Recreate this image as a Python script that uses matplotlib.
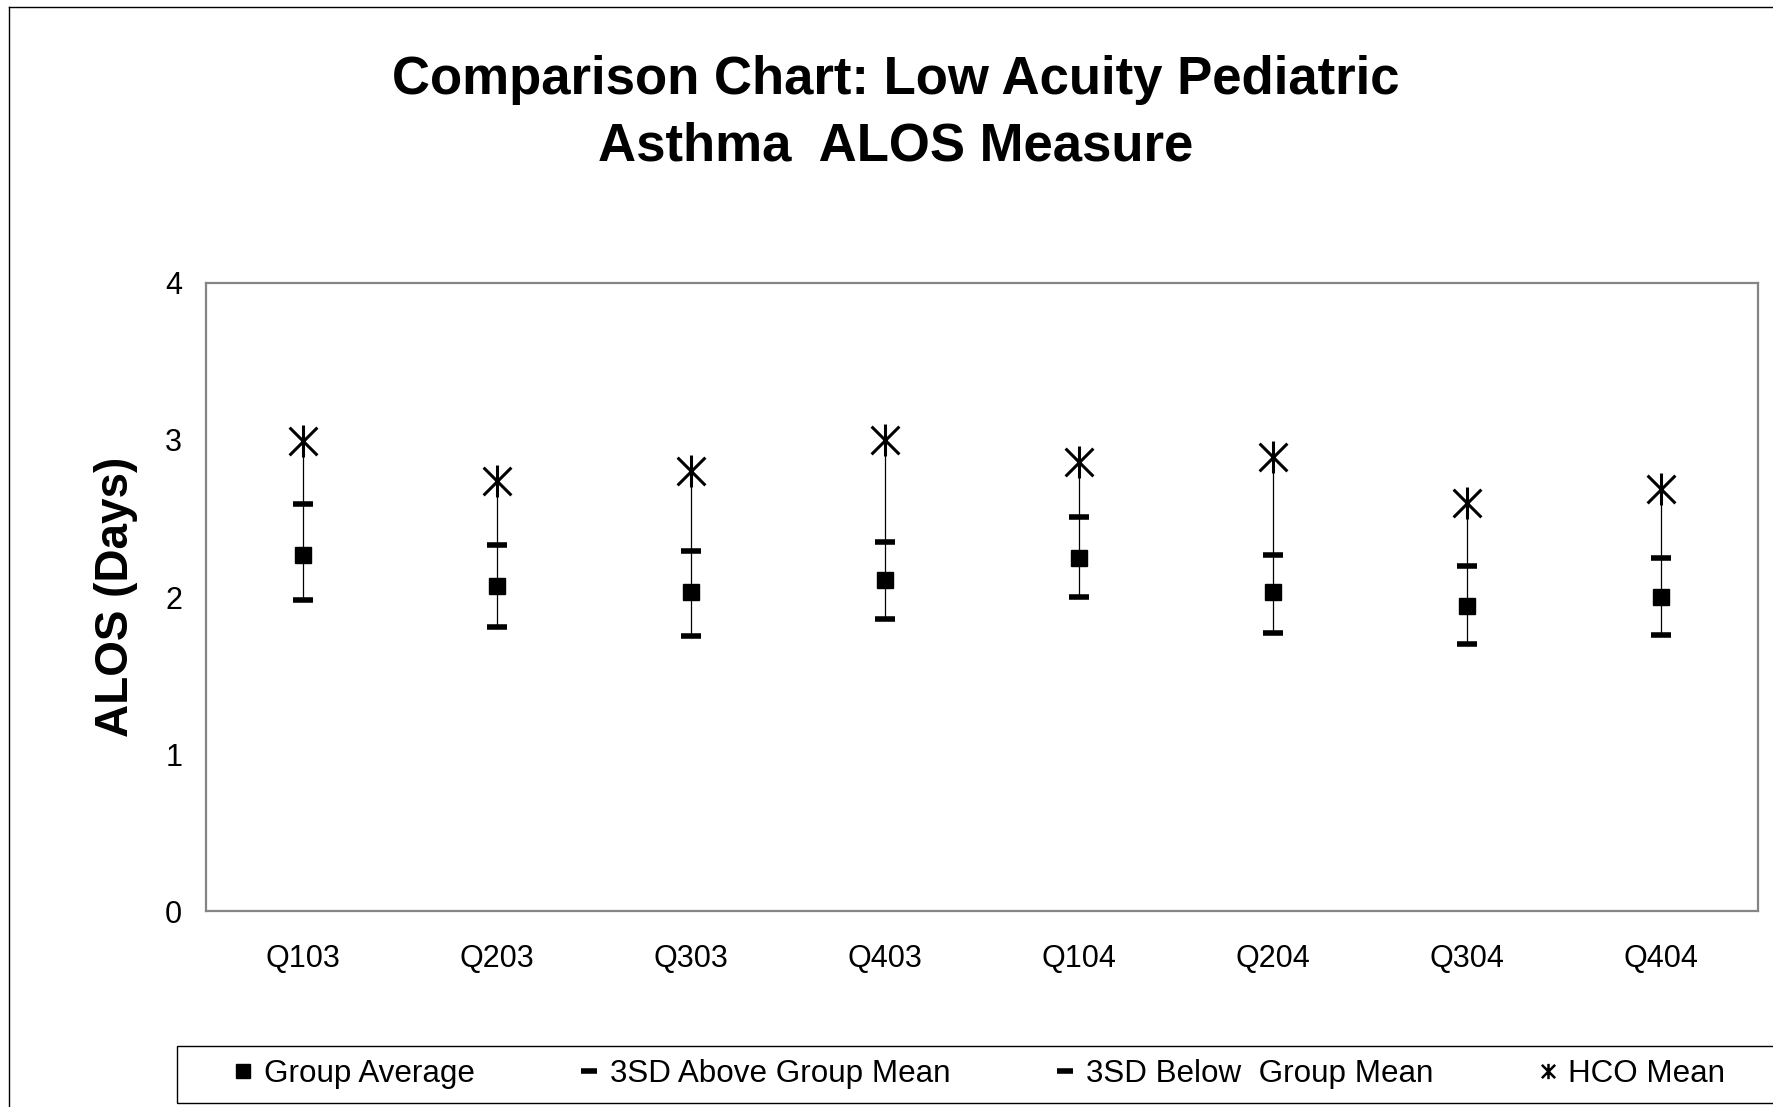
import matplotlib
matplotlib.use("Agg")
import matplotlib.pyplot as plt
from matplotlib.lines import Line2D
from matplotlib.patches import Rectangle
from matplotlib.path import Path

plt.rcParams['font.family'] = ['Liberation Sans', 'DejaVu Sans']

# values
quarters = ['Q103', 'Q203', 'Q303', 'Q403', 'Q104', 'Q204', 'Q304', 'Q404']
group_avg = [2.27, 2.07, 2.03, 2.11, 2.25, 2.03, 1.94, 2.00]
sd3_above = [2.59, 2.33, 2.29, 2.35, 2.51, 2.27, 2.20, 2.25]
sd3_below = [1.98, 1.81, 1.75, 1.86, 2.00, 1.77, 1.70, 1.76]
hco_mean = [2.99, 2.74, 2.80, 3.00, 2.86, 2.89, 2.60, 2.69]
yticks = [0, 1, 2, 3, 4]

# excel style "star" marker: an x with a vertical bar through it
star = Path([(-1, -1), (1, 1), (-1, 1), (1, -1), (0, -1.15), (0, 1.15)],
            [Path.MOVETO, Path.LINETO, Path.MOVETO, Path.LINETO, Path.MOVETO, Path.LINETO])

fig = plt.figure(figsize=(17.73, 11.07), dpi=100)
ax = fig.add_axes([0.1161, 0.1767, 0.8756, 0.5679])

x = list(range(len(quarters)))
lows = [min(a, b, c, d) for a, b, c, d in zip(group_avg, sd3_above, sd3_below, hco_mean)]
highs = [max(a, b, c, d) for a, b, c, d in zip(group_avg, sd3_above, sd3_below, hco_mean)]

# high-low lines
ax.vlines(x, lows, highs, color='black', linewidth=0.9, zorder=2)

ax.plot(x, group_avg, linestyle='none', marker='s', markersize=11, color='black', zorder=3)
ax.plot(x, sd3_above, linestyle='none', marker='_', markersize=14, markeredgewidth=4, color='black', zorder=3)
ax.plot(x, sd3_below, linestyle='none', marker='_', markersize=14, markeredgewidth=4, color='black', zorder=3)
ax.plot(x, hco_mean, linestyle='none', marker=star, markersize=23, markeredgewidth=2.2,
        color='black', markerfacecolor='none', zorder=3)

ax.set_xlim(-0.5, len(quarters) - 0.5)
ax.set_ylim(0, 4)
ax.set_yticks(yticks)
ax.set_xticks(x)
ax.set_xticklabels(quarters)
ax.tick_params(axis='both', length=0, labelsize=22)
ax.tick_params(axis='y', pad=17)
ax.tick_params(axis='x', pad=23.5)
for s in ax.spines.values():
    s.set_color('#858585')
    s.set_linewidth(1.6)

fig.text(0.505, 0.898, 'Comparison Chart: Low Acuity Pediatric\nAsthma  ALOS Measure',
         ha='center', va='center', fontsize=38, fontweight='bold', linespacing=1.42)
fig.text(0.0657, 0.4607, 'ALOS (Days)', rotation=90, ha='center', va='center',
         fontsize=33, fontweight='bold')

# legend box drawn by hand, entries spread inside it
fig.add_artist(Rectangle((0.1001, 0.004), 1.0, 0.051, transform=fig.transFigure,
                         facecolor='none', edgecolor='black', linewidth=1.0))
handles = [
    Line2D([], [], linestyle='none', marker='s', markersize=10, color='black'),
    Line2D([], [], linestyle='none', marker='_', markersize=11, markeredgewidth=4, color='black'),
    Line2D([], [], linestyle='none', marker='_', markersize=11, markeredgewidth=4, color='black'),
    Line2D([], [], linestyle='none', marker=star, markersize=11, markeredgewidth=1.8, color='black'),
]
labels = ['Group Average', '3SD Above Group Mean', '3SD Below  Group Mean', 'HCO Mean']
leg = fig.legend(handles, labels, loc='center left', bbox_to_anchor=(0.131, 0.0298, 0.842, 0),
                 mode='expand', ncol=4, fontsize=22.6, frameon=False,
                 borderaxespad=0, borderpad=0, handlelength=0.7, handletextpad=0.3)

# outer chart border (left and top edges visible)
fig.add_artist(Line2D([0.0051, 0.0051], [-0.1, 0.9937], transform=fig.transFigure, color='black', linewidth=1.0))
fig.add_artist(Line2D([0.0051, 1.1], [0.9937, 0.9937], transform=fig.transFigure, color='black', linewidth=1.0))

fig.savefig('out.png', dpi=100)
